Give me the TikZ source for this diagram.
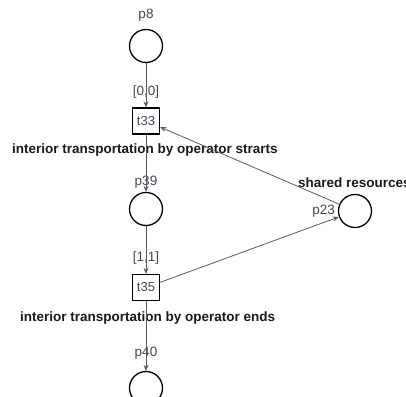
\documentclass[tikz,border=0pt]{standalone}
\usepackage{fontspec}
\setmainfont{Liberation Sans}
\usetikzlibrary{arrows.meta}
\definecolor{lbl}{HTML}{3E4856}
\definecolor{arc}{HTML}{5A5A5A}
\tikzset{
  place/.style={circle, draw=black, line width=1.3pt, minimum size=33pt, inner sep=0pt},
  trans/.style={rectangle, draw=black, line width=1.3pt, minimum width=27pt, minimum height=26pt, inner sep=0pt, font=\fontsize{13}{15}\selectfont, text=lbl},
  lbl/.style={font=\fontsize{13.5}{15}\selectfont, text=lbl, inner sep=0pt},
  title/.style={font=\bfseries\fontsize{13.5}{15}\selectfont, text=black!90, inner sep=0pt},
  arc/.style={draw=arc, line width=0.8pt, -{Stealth[length=6pt,width=5pt]}}
}
\begin{document}
\begin{tikzpicture}[x=1pt, y=-1pt]
\useasboundingbox (0,0) rectangle (406,396);
% places
\node[place] (p8)  at (146,46) {};
\node[place] (p39) at (146,209) {};
\node[place] (p40) at (146,388) {};
\node[place] (p23) at (355,211) {};
% transitions
\node[trans] (t33) at (146,121) {t33};
\node[trans] (t35) at (146,287.5) {t35};
% labels
\node[lbl] (lp8)  at (146,15) {p8};
\node[lbl] (lp39) at (146,182) {p39};
\node[lbl] (lp40) at (146,353) {p40};
\node[lbl, anchor=east] (lp23) at (335,211) {p23};
\node[lbl] (g33) at (146,92) {[0,0]};
\node[lbl] (g35) at (146,258) {[1,1]};
\node[title, anchor=west] (d33) at (12,150) {interior transportation by operator strarts};
\node[title, anchor=west] (d35) at (20,318) {interior transportation by operator ends};
\node[title, anchor=west] (d23) at (298,183) {shared resources};
% arcs
\draw[arc] (p8) -- (t33);
\draw[arc] (t33) -- (p39);
\draw[arc] (p39) -- (t35);
\draw[arc] (t35) -- (p40);
\draw[arc] (p23) -- (t33);
\draw[arc] (t35) -- (p23);
\end{tikzpicture}
\end{document}
